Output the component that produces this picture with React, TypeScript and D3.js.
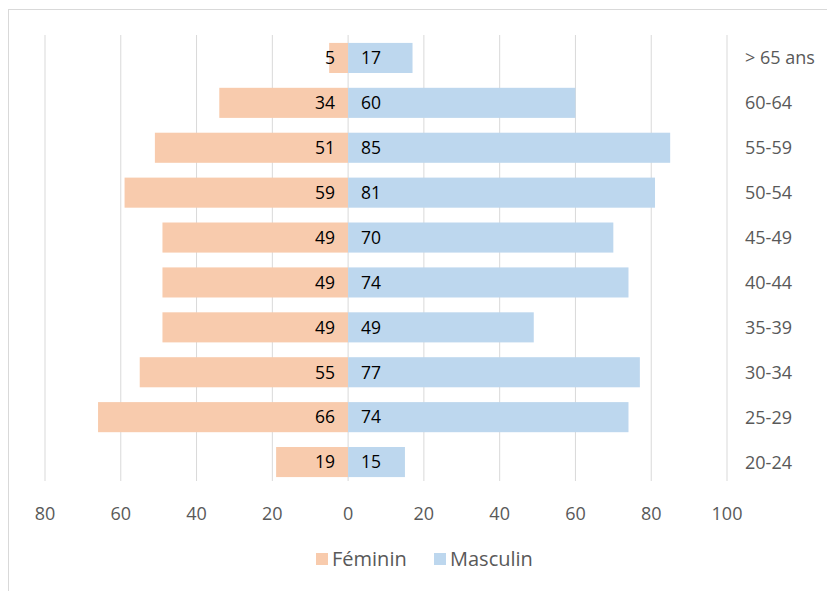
import React from "react";
import * as d3 from "d3";

const categories = ["> 65 ans", "60-64", "55-59", "50-54", "45-49", "40-44", "35-39", "30-34", "25-29", "20-24"];
const feminin = [5, 34, 51, 59, 49, 49, 49, 55, 66, 19];
const masculin = [17, 60, 85, 81, 70, 74, 49, 77, 74, 15];
const tickValues = [-80, -60, -40, -20, 0, 20, 40, 60, 80, 100];
const seriesNames = ["Féminin", "Masculin"];
const colors = ["#F8CBAD", "#BDD7EE"];

export default function App() {
  const W = 827, H = 591;
  const x = d3.scaleLinear().domain([-80, 100]).range([45, 727]);
  const y = d3.scaleBand().domain(categories).range([35.5, 484.5]).paddingInner(0.33).paddingOuter(0.165);
  const font = "'Open Sans', 'Noto Sans', sans-serif";
  const bh = y.bandwidth();
  return (
    <svg width={W} height={H} style={{ position: "absolute", left: 0, top: 0, background: "#fff" }} fontFamily={font}>
      <rect x={8.5} y={9.5} width={830} height={600} fill="#fff" stroke="#D9D9D9" />
      {tickValues.map((t) => (
        <line key={"g" + t} x1={x(t)} x2={x(t)} y1={35} y2={481} stroke="#D9D9D9" strokeWidth={1} />
      ))}
      {categories.map((c, i) => (
        <g key={c}>
          <rect x={x(-feminin[i])} y={y(c)} width={x(0) - x(-feminin[i])} height={bh} fill={colors[0]} />
          <rect x={x(0)} y={y(c)} width={x(masculin[i]) - x(0)} height={bh} fill={colors[1]} />
          <text x={x(0) - 13} y={y(c)! + bh / 2} dy="0.36em" textAnchor="end" fontSize={17.5} fill="#000">{feminin[i]}</text>
          <text x={x(0) + 13} y={y(c)! + bh / 2} dy="0.36em" textAnchor="start" fontSize={17.5} fill="#000">{masculin[i]}</text>
          <text x={745} y={y(c)! + bh / 2} dy="0.36em" textAnchor="start" fontSize={18} fill="#595959">{c}</text>
        </g>
      ))}
      {tickValues.map((t) => (
        <text key={"t" + t} x={x(t)} y={514} dy="0.36em" textAnchor="middle" fontSize={18} fill="#595959">{Math.abs(t)}</text>
      ))}
      <g>
        <rect x={316} y={553} width={12} height={12} fill={colors[0]} />
        <text x={332} y={559} dy="0.36em" fontSize={20} fill="#595959">{seriesNames[0]}</text>
        <rect x={434} y={553} width={12} height={12} fill={colors[1]} />
        <text x={450} y={559} dy="0.36em" fontSize={20} fill="#595959">{seriesNames[1]}</text>
      </g>
    </svg>
  );
}
